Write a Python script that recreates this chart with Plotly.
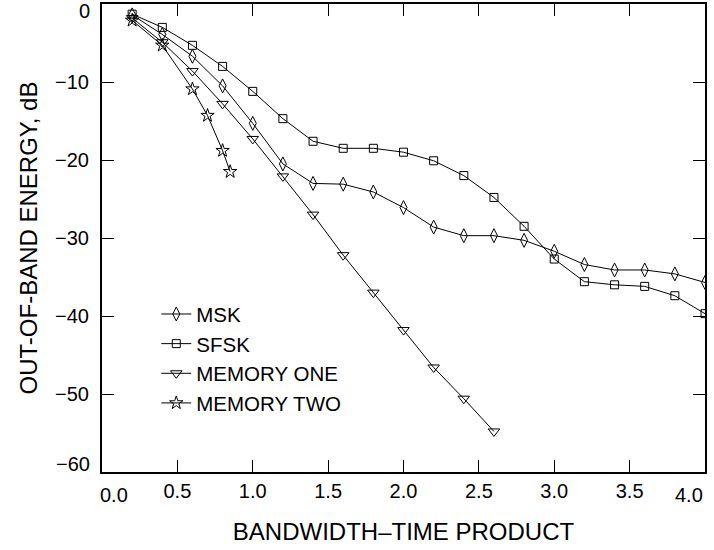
import plotly.graph_objects as go

# ---- data ----
x_msk = [0.2, 0.4, 0.6, 0.8, 1.0, 1.2, 1.4, 1.6, 1.8, 2.0, 2.2, 2.4, 2.6, 2.8, 3.0, 3.2, 3.4, 3.6, 3.8, 4.0]
y_msk = [-1.4, -3.9, -6.7, -10.5, -15.3, -20.5, -23.0, -23.1, -24.1, -26.1, -28.6, -29.7, -29.7, -30.3, -31.7, -33.4, -34.1, -34.1, -34.6, -35.7]

x_sfsk = [0.2, 0.4, 0.6, 0.8, 1.0, 1.2, 1.4, 1.6, 1.8, 2.0, 2.2, 2.4, 2.6, 2.8, 3.0, 3.2, 3.4, 3.6, 3.8, 4.0]
y_sfsk = [-1.3, -3.0, -5.3, -8.0, -11.2, -14.7, -17.6, -18.5, -18.5, -19.0, -20.1, -22.0, -24.8, -28.5, -32.7, -35.6, -36.0, -36.2, -37.4, -39.7]

x_mem1 = [0.2, 0.4, 0.6, 0.8, 1.0, 1.2, 1.4, 1.6, 1.8, 2.0, 2.2, 2.4, 2.6]
y_mem1 = [-1.8, -4.9, -8.6, -12.8, -17.3, -22.1, -27.0, -32.2, -37.0, -41.8, -46.6, -50.6, -54.8]

x_mem2 = [0.2, 0.4, 0.6, 0.7, 0.8, 0.85]
y_mem2 = [-2.1, -5.3, -10.9, -14.3, -18.8, -21.5]

series_names = ["MSK", "SFSK", "MEMORY ONE", "MEMORY TWO"]
x_ticks = [0.0, 0.5, 1.0, 1.5, 2.0, 2.5, 3.0, 3.5, 4.0]
y_ticks = [0, -10, -20, -30, -40, -50, -60]
x_title = "BANDWIDTH\u2013TIME PRODUCT"
y_title = "OUT-OF-BAND ENERGY, dB"

FONT = "Liberation Sans, Arial, sans-serif"
FS = 20

symbols = ["diamond-tall-open", "square-open", "triangle-down-open", "star-open"]
sizes = [10, 8, 10, 10]
xs = [x_msk, x_sfsk, x_mem1, x_mem2]
ys = [y_msk, y_sfsk, y_mem1, y_mem2]

fig = go.Figure()
for name, x, y, sym, sz in zip(series_names, xs, ys, symbols, sizes):
    fig.add_trace(go.Scatter(
        x=x, y=y, name=name, mode="lines+markers",
        line=dict(color="black", width=1),
        marker=dict(symbol=sym, size=sz, color="black", line=dict(color="black", width=1)),
    ))

def fmt(v):
    return f"{v:.1f}"

def yfmt(v):
    return "0" if v == 0 else "\u2212" + str(int(abs(v)))

# end labels handled as annotations so they sit inside the frame like the reference
xtext = ["" if v in (x_ticks[0], x_ticks[-1]) else fmt(v) for v in x_ticks]
ytext = ["" if v in (y_ticks[0], y_ticks[-1]) else yfmt(v) for v in y_ticks]

fig.update_layout(
    width=714, height=550,
    margin=dict(l=102, r=9, t=2, b=78),
    paper_bgcolor="white", plot_bgcolor="white",
    font=dict(family=FONT, size=FS, color="black"),
    showlegend=True,
    legend=dict(x=0.09, y=0.38, xanchor="left", yanchor="top",
                bgcolor="rgba(0,0,0,0)", font=dict(size=20.5), itemsizing="trace"),
    xaxis=dict(range=[0, 4.0], tickvals=x_ticks, ticktext=xtext,
               ticks="inside", ticklen=12, tickwidth=1, tickcolor="black",
               showline=True, linecolor="black", linewidth=2, mirror="ticks",
               showgrid=False, zeroline=False,
               title=dict(text=x_title, standoff=22)),
    yaxis=dict(range=[-60, 0], tickvals=y_ticks, ticktext=ytext,
               ticks="inside", ticklen=12, tickwidth=1, tickcolor="black",
               showline=True, linecolor="black", linewidth=2, mirror="ticks",
               showgrid=False, zeroline=False, ticklabelstandoff=7,
               title=dict(text=y_title, standoff=11)),
)

annos = [
    dict(x=x_ticks[0], y=0, xref="x", yref="paper", text=fmt(x_ticks[0]),
         xanchor="left", yanchor="top", xshift=-4, yshift=-10, showarrow=False),
    dict(x=x_ticks[-1], y=0, xref="x", yref="paper", text=fmt(x_ticks[-1]),
         xanchor="right", yanchor="top", yshift=-10, showarrow=False),
    dict(x=0, y=y_ticks[0], xref="paper", yref="y", text=yfmt(y_ticks[0]),
         xanchor="right", yanchor="top", xshift=-10, yshift=6, showarrow=False),
    dict(x=0, y=y_ticks[-1], xref="paper", yref="y", text=yfmt(y_ticks[-1]),
         xanchor="right", yanchor="bottom", xshift=-10, yshift=-5, showarrow=False),
]
fig.update_layout(annotations=annos)

fig.write_html("out.html")
